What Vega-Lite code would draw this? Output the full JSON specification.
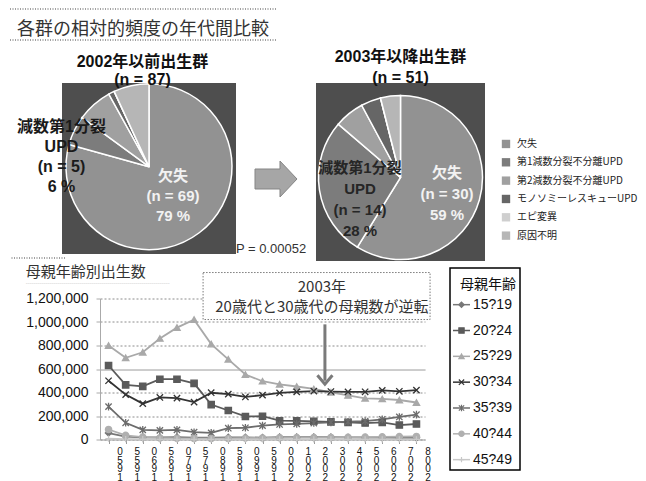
{
  "$schema": "https://vega.github.io/schema/vega-lite/v6.json",
  "background": "#ffffff",
  "padding": {"left": 9, "top": 8, "right": 0, "bottom": 0},
  "config": {
    "font": "Liberation Sans, Noto Sans CJK JP",
    "view": {"stroke": null},
    "title": {"font": "Noto Sans CJK JP", "color": "#222222", "fontWeight": "normal"},
    "axisX": {"title": null, "labelAngle": 0, "labelExpr": "reverse(split(datum.label, ''))", "labelFontSize": 10, "labelLineHeight": 8.5,
              "labelBaseline": "top", "labelOffset": 11, "labelPadding": 3, "tickSize": 4, "tickColor": "#999999", "domainColor": "#999999",
              "labelColor": "#111111", "labelOverlap": false, "labelFont": "Liberation Sans", "grid": false},
    "axisY": {"title": null, "values": [0, 200000, 400000, 600000, 800000, 1000000, 1200000], "format": ",d", "grid": true, "labelOverlap": false,
              "gridColor": "#8c8c8c", "gridDash": {"condition": {"test": "datum.value === 600000", "value": [1, 0]}, "value": [2, 2]},
              "domainColor": "#aaaaaa", "tickColor": "#aaaaaa", "tickSize": 4, "labelPadding": 8, "labelFontSize": 14,
              "labelFont": "Liberation Sans", "labelColor": "#111111"}
  },
  "spacing": 0,
  "vconcat": [
    {
      "width": 266, "height": 31,
      "data": {"values": [{"t": "各群の相対的頻度の年代間比較"}]},
      "layer": [
        {"mark": {"type": "rule", "stroke": "#a0a0a0", "strokeWidth": 2, "strokeDash": [1, 1.5]},
         "encoding": {"y": {"datum": 0, "type": "quantitative", "scale": {"domain": [0, 1], "nice": false, "zero": false}, "axis": null}}},
        {"mark": {"type": "rule", "stroke": "#a0a0a0", "strokeWidth": 2, "strokeDash": [1, 1.5]},
         "encoding": {"y": {"datum": 1, "type": "quantitative", "axis": null}}},
        {"mark": {"type": "text", "fontSize": 18, "font": "Noto Sans CJK JP", "color": "#333333", "dy": 5},
         "encoding": {"y": {"datum": 0.5, "type": "quantitative", "axis": null}, "text": {"field": "t"}}}
      ]
    },
    {"width": 1, "height": 8, "data": {"values": [{}]}, "mark": {"type": "rect", "opacity": 0}, "encoding": {}},
    {
      "spacing": 0,
      "bounds": "flush",
      "hconcat": [
        {"width": 52, "height": 178, "data": {"values": [{}]},
         "mark": {"type": "rule", "stroke": "#a0a0a0", "strokeWidth": 2, "strokeDash": [1, 1.5], "yOffset": -3, "xOffset": 3, "x2Offset": 95},
         "encoding": {"y": {"datum": 0, "type": "quantitative", "scale": {"domain": [0, 1]}, "axis": null}}},
        {
          "width": 174, "height": 171,
          "view": {"fill": "#4e4e4e", "stroke": null},
          "data": {"values": [
            {"cause": "欠失", "n": 69, "k": 1, "label": "欠失\n(n = 69)\n79 %"},
            {"cause": "第1減数分裂不分離UPD", "n": 5, "k": 2, "label": "減数第1分裂\nUPD\n(n = 5)\n6 %"},
            {"cause": "第2減数分裂不分離UPD", "n": 6, "k": 3, "label": ""},
            {"cause": "モノソミーレスキューUPD", "n": 1, "k": 4, "label": ""},
            {"cause": "エピ変異", "n": 0, "k": 5, "label": ""},
            {"cause": "原因不明", "n": 6, "k": 6, "label": ""}
          ]},
          "layer": [
            {"mark": {"type": "arc", "radius": 83, "stroke": "#ffffff", "strokeWidth": 1.5, "yOffset": -1.8},
             "encoding": {
               "theta": {"field": "n", "type": "quantitative", "stack": true},
               "order": {"field": "k", "type": "quantitative"},
               "fill": {"field": "cause", "type": "nominal", "legend": null,
               "scale": {"domain": ["欠失", "第1減数分裂不分離UPD", "第2減数分裂不分離UPD", "モノソミーレスキューUPD", "エピ変異", "原因不明"],
                         "range": ["#929292", "#7c7c7c", "#a0a0a0", "#666666", "#cfcfcf", "#b6b6b6"]}}}},
            {"transform": [{"filter": "datum.k === 1"}],
             "mark": {"type": "text", "dx": 24, "dy": 7.5, "lineBreak": "\n", "fontSize": 15, "fontWeight": "bold", "lineHeight": 20, "fill": "#f2f2f2"},
             "encoding": {"text": {"field": "label"}}},
            {"transform": [{"filter": "datum.k === 2"}],
             "mark": {"type": "text", "dx": -87.5, "dy": -42, "lineBreak": "\n", "fontSize": 16, "fontWeight": "bold", "lineHeight": 20, "fill": "#1a1a1a"},
             "encoding": {"text": {"field": "label"}}},
            {"transform": [{"filter": "datum.k === 1"}],
             "mark": {"type": "text", "dx": -6.5, "dy": -106.5, "lineBreak": "\n", "fontSize": 16, "fontWeight": "bold", "lineHeight": 18, "fill": "#111111"},
             "encoding": {"text": {"value": "2002年以前出生群\n(n = 87)"}}}
          ]
        },
        {
          "width": 80, "height": 173,
          "data": {"values": [{"p": "P = 0.00052"}]},
          "layer": [
            {"mark": {"type": "point", "shape": "M-1,-0.476L0.19,-0.476L0.19,-0.857L1,0L0.19,0.857L0.19,0.476L-1,0.476Z", "size": 1764, "filled": true, "fill": "#a6a6a6", "stroke": "#858585", "strokeWidth": 1, "opacity": 1, "yOffset": 9.5},
             "encoding": {}},
            {"mark": {"type": "text", "fontSize": 13, "color": "#333333", "dx": -5, "dy": 79.5, "font": "Liberation Sans"},
             "encoding": {"text": {"field": "p"}}}
          ]
        },
        {
          "width": 169, "height": 178,
          "view": {"fill": "#4e4e4e", "stroke": null},
          "data": {"values": [
            {"cause": "欠失", "n": 30, "k": 1, "label": "欠失\n(n = 30)\n59 %"},
            {"cause": "第1減数分裂不分離UPD", "n": 14, "k": 2, "label": "減数第1分裂\nUPD\n(n = 14)\n28 %"},
            {"cause": "第2減数分裂不分離UPD", "n": 3, "k": 3, "label": ""},
            {"cause": "モノソミーレスキューUPD", "n": 2, "k": 4, "label": ""},
            {"cause": "エピ変異", "n": 0, "k": 5, "label": ""},
            {"cause": "原因不明", "n": 2, "k": 6, "label": ""}
          ]},
          "layer": [
            {"mark": {"type": "arc", "radius": 82, "stroke": "#ffffff", "strokeWidth": 1.5, "yOffset": 5.5},
             "encoding": {
               "theta": {"field": "n", "type": "quantitative", "stack": true},
               "order": {"field": "k", "type": "quantitative"},
               "fill": {"field": "cause", "type": "nominal", "legend": null,
               "scale": {"domain": ["欠失", "第1減数分裂不分離UPD", "第2減数分裂不分離UPD", "モノソミーレスキューUPD", "エピ変異", "原因不明"],
                         "range": ["#929292", "#7c7c7c", "#a0a0a0", "#666666", "#cfcfcf", "#b6b6b6"]}}}},
            {"transform": [{"filter": "datum.k === 1"}],
             "mark": {"type": "text", "dx": 46.5, "dy": 1, "lineBreak": "\n", "fontSize": 15, "fontWeight": "bold", "lineHeight": 21, "fill": "#f2f2f2"},
             "encoding": {"text": {"field": "label"}}},
            {"transform": [{"filter": "datum.k === 2"}],
             "mark": {"type": "text", "dx": -40.5, "dy": -4, "lineBreak": "\n", "fontSize": 15, "fontWeight": "bold", "lineHeight": 21, "fill": "#262626"},
             "encoding": {"text": {"field": "label"}}},
            {"transform": [{"filter": "datum.k === 1"}],
             "mark": {"type": "text", "dy": -115, "lineBreak": "\n", "fontSize": 16, "fontWeight": "bold", "lineHeight": 21, "fill": "#111111"},
             "encoding": {"text": {"value": "2003年以降出生群\n(n = 51)"}}}
          ]
        },
        {
          "width": 42, "height": 110,
          "data": {"values": [
            {"cause": "欠失"}, {"cause": "第1減数分裂不分離UPD"}, {"cause": "第2減数分裂不分離UPD"},
            {"cause": "モノソミーレスキューUPD"}, {"cause": "エピ変異"}, {"cause": "原因不明"}
          ]},
          "encoding": {"y": {"field": "cause", "type": "nominal", "sort": null, "axis": null, "scale": {"type": "point", "padding": 0.5}}},
          "layer": [
            {"mark": {"type": "point", "shape": "square", "size": 70, "filled": true, "opacity": 1, "yOffset": 51.8},
             "encoding": {"fill": {"field": "cause", "type": "nominal", "legend": null,
               "scale": {"domain": ["欠失", "第1減数分裂不分離UPD", "第2減数分裂不分離UPD", "モノソミーレスキューUPD", "エピ変異", "原因不明"],
                         "range": ["#929292", "#7c7c7c", "#a0a0a0", "#666666", "#cfcfcf", "#b6b6b6"]}}}},
            {"mark": {"type": "text", "align": "left", "dx": 11, "yOffset": 51.8, "fontSize": 10, "font": "Noto Sans CJK JP", "color": "#222222"},
             "encoding": {"text": {"field": "cause"}}}
          ]
        }
      ]
    },
    {"width": 1, "height": 1.5, "data": {"values": [{}]}, "mark": {"type": "rect", "opacity": 0}, "encoding": {}},
    {
      "spacing": 25,
      "bounds": "flush",
      "center": true,
      "hconcat": [
        {"width": 65, "height": 1, "data": {"values": [{}]}, "mark": {"type": "rect", "opacity": 0}, "encoding": {}},
        {
          "width": 325, "height": 141,
          "title": {"text": "母親年齢別出生数", "subtitle": "┈┈┈┈┈┈┈┈┈┈┈┈┈┈┈┈┈┈", "anchor": "start", "frame": "bounds", "fontSize": 15, "color": "#333333",
                    "subtitleColor": "#9a9a9a", "subtitleFontSize": 8, "subtitleFont": "Noto Sans CJK JP", "subtitlePadding": 1, "offset": -17},
          "data": {"values": [
            {"year": "1950", "15?19": 55000, "20?24": 630000, "25?29": 800000, "30?34": 500000, "35?39": 280000, "40?44": 85000, "45?49": 8000},
            {"year": "1955", "15?19": 25000, "20?24": 465000, "25?29": 695000, "30?34": 382000, "35?39": 142000, "40?44": 35000, "45?49": 3000},
            {"year": "1960", "15?19": 19000, "20?24": 452000, "25?29": 742000, "30?34": 305000, "35?39": 82000, "40?44": 20000, "45?49": 2000},
            {"year": "1965", "15?19": 17000, "20?24": 513000, "25?29": 860000, "30?34": 358000, "35?39": 78000, "40?44": 13000, "45?49": 1000},
            {"year": "1970", "15?19": 20000, "20?24": 513000, "25?29": 952000, "30?34": 352000, "35?39": 82000, "40?44": 10000, "45?49": 1000},
            {"year": "1975", "15?19": 15000, "20?24": 478000, "25?29": 1020000, "30?34": 318000, "35?39": 62000, "40?44": 8000, "45?49": 1000},
            {"year": "1980", "15?19": 15000, "20?24": 297000, "25?29": 812000, "30?34": 398000, "35?39": 56000, "40?44": 8000, "45?49": 1000},
            {"year": "1985", "15?19": 18000, "20?24": 247000, "25?29": 682000, "30?34": 386000, "35?39": 96000, "40?44": 9000, "45?49": 1000},
            {"year": "1990", "15?19": 18000, "20?24": 196000, "25?29": 553000, "30?34": 362000, "35?39": 100000, "40?44": 12000, "45?49": 1000},
            {"year": "1995", "15?19": 16000, "20?24": 198000, "25?29": 496000, "30?34": 378000, "35?39": 118000, "40?44": 13000, "45?49": 1000},
            {"year": "2000", "15?19": 20000, "20?24": 160000, "25?29": 470000, "30?34": 396000, "35?39": 128000, "40?44": 15000, "45?49": 1000},
            {"year": "2001", "15?19": 20000, "20?24": 158000, "25?29": 451000, "30?34": 405000, "35?39": 133000, "40?44": 16000, "45?49": 1000},
            {"year": "2002", "15?19": 21000, "20?24": 155000, "25?29": 430000, "30?34": 412000, "35?39": 140000, "40?44": 16000, "45?49": 1000},
            {"year": "2003", "15?19": 20000, "20?24": 150000, "25?29": 401000, "30?34": 408000, "35?39": 146000, "40?44": 17000, "45?49": 1000},
            {"year": "2004", "15?19": 18000, "20?24": 146000, "25?29": 375000, "30?34": 405000, "35?39": 151000, "40?44": 18000, "45?49": 1000},
            {"year": "2005", "15?19": 17000, "20?24": 140000, "25?29": 350000, "30?34": 406000, "35?39": 156000, "40?44": 20000, "45?49": 1000},
            {"year": "2006", "15?19": 16000, "20?24": 146000, "25?29": 345000, "30?34": 418000, "35?39": 172000, "40?44": 22000, "45?49": 1000},
            {"year": "2007", "15?19": 15000, "20?24": 123000, "25?29": 336000, "30?34": 410000, "35?39": 192000, "40?44": 24000, "45?49": 1000},
            {"year": "2008", "15?19": 15000, "20?24": 132000, "25?29": 315000, "30?34": 420000, "35?39": 212000, "40?44": 26000, "45?49": 1000}
          ]},
          "layer": [
            {"transform": [{"fold": ["15?19", "20?24", "25?29", "30?34", "35?39", "40?44", "45?49"], "as": ["age", "births"]}],
             "mark": {"type": "line", "strokeWidth": 1.8},
             "encoding": {
               "x": {"field": "year", "type": "ordinal", "scale": {"type": "point", "padding": 0.5}},
               "y": {"field": "births", "type": "quantitative", "scale": {"domain": [0, 1200000], "nice": false}},
               "color": {"field": "age", "type": "nominal", "legend": null,
                 "scale": {"domain": ["15?19", "20?24", "25?29", "30?34", "35?39", "40?44", "45?49"],
                           "range": ["#777777", "#5a5a5a", "#a9a9a9", "#333333", "#6c6c6c", "#b0b0b0", "#c8c8c8"]}}}},
            {"transform": [{"fold": ["15?19", "20?24", "25?29", "30?34", "35?39", "40?44", "45?49"], "as": ["age", "births"]}],
             "mark": {"type": "point", "filled": true, "size": 40, "strokeWidth": 1.3, "opacity": 1},
             "encoding": {
               "x": {"field": "year", "type": "ordinal"},
               "y": {"field": "births", "type": "quantitative"},
               "color": {"field": "age", "type": "nominal", "legend": null,
                 "scale": {"domain": ["15?19", "20?24", "25?29", "30?34", "35?39", "40?44", "45?49"],
                           "range": ["#777777", "#5a5a5a", "#a9a9a9", "#333333", "#6c6c6c", "#b0b0b0", "#c8c8c8"]}},
               "stroke": {"field": "age", "type": "nominal", "legend": null,
                 "scale": {"domain": ["15?19", "20?24", "25?29", "30?34", "35?39", "40?44", "45?49"],
                           "range": ["#777777", "#5a5a5a", "#a9a9a9", "#333333", "#6c6c6c", "#b0b0b0", "#c8c8c8"]}},
               "shape": {"field": "age", "type": "nominal", "legend": null,
                 "scale": {"domain": ["15?19", "20?24", "25?29", "30?34", "35?39", "40?44", "45?49"],
                           "range": ["diamond", "square", "triangle-up", "M-1,-1L1,1M-1,1L1,-1", "M-1,-1L1,1M-1,1L1,-1M0,-1.2L0,1.2", "circle", "M-1,0L1,0M0,-1L0,1"]}}
             }},
            {"transform": [{"filter": "datum.year === '2003'"}],
             "mark": {"type": "rect", "fill": "#ffffff", "stroke": "#7a7a7a", "strokeDash": [1.5, 1.5], "strokeWidth": 1, "xOffset": 9, "x2Offset": 13.6},
             "encoding": {"x": {"datum": "1975", "type": "ordinal"}, "x2": {"datum": "2008"}, "y": {"datum": 1421000, "type": "quantitative"}, "y2": {"datum": 1021000}}},
            {"transform": [{"filter": "datum.year === '2003'"}],
             "mark": {"type": "text", "lineBreak": "\n", "fontSize": 15, "lineHeight": 20, "color": "#333333", "font": "Noto Sans CJK JP", "xOffset": -9, "dy": -10},
             "encoding": {"x": {"field": "year", "type": "ordinal"}, "y": {"datum": 1217000, "type": "quantitative"}, "text": {"value": "2003年\n20歳代と30歳代の母親数が逆転"}}},
            {"transform": [{"filter": "datum.year === '2003'"}],
             "mark": {"type": "rule", "stroke": "#7a7a7a", "strokeWidth": 3, "xOffset": -6},
             "encoding": {"x": {"field": "year", "type": "ordinal"}, "y": {"datum": 980000, "type": "quantitative"}, "y2": {"datum": 500000}}},
            {"transform": [{"filter": "datum.year === '2003'"}],
             "mark": {"type": "point", "shape": "M-1,-0.7L0,0.5L1,-0.7", "filled": false, "stroke": "#7a7a7a", "strokeWidth": 3, "size": 225, "opacity": 1, "xOffset": -6},
             "encoding": {"x": {"field": "year", "type": "ordinal"}, "y": {"datum": 502000, "type": "quantitative"}}}
          ]
        },
        {
          "width": 70, "height": 202,
          "view": {"fill": "#ffffff", "stroke": "#000000", "strokeWidth": 1.5},
          "title": {"text": "母親年齢", "fontSize": 14, "offset": -24, "color": "#111111", "dx": 3},
          "data": {"values": [{"age": "15?19"}, {"age": "20?24"}, {"age": "25?29"}, {"age": "30?34"}, {"age": "35?39"}, {"age": "40?44"}, {"age": "45?49"}]},
          "encoding": {"y": {"field": "age", "type": "nominal", "sort": null, "axis": null, "scale": {"type": "point", "padding": 0.91, "align": 0.78}}},
          "layer": [
            {"mark": {"type": "point", "shape": "M-1,0L1,0", "size": 289, "filled": false, "strokeWidth": 1.5, "opacity": 1, "xOffset": -23.5},
             "encoding": {"stroke": {"field": "age", "type": "nominal", "legend": null,
               "scale": {"domain": ["15?19", "20?24", "25?29", "30?34", "35?39", "40?44", "45?49"],
                         "range": ["#777777", "#5a5a5a", "#a9a9a9", "#333333", "#6c6c6c", "#b0b0b0", "#c8c8c8"]}}}},
            {"mark": {"type": "point", "filled": true, "size": 28, "strokeWidth": 1.2, "opacity": 1, "xOffset": -23.5},
             "encoding": {
               "color": {"field": "age", "type": "nominal", "legend": null,
                 "scale": {"domain": ["15?19", "20?24", "25?29", "30?34", "35?39", "40?44", "45?49"],
                           "range": ["#777777", "#5a5a5a", "#a9a9a9", "#333333", "#6c6c6c", "#b0b0b0", "#c8c8c8"]}},
               "stroke": {"field": "age", "type": "nominal", "legend": null,
                 "scale": {"domain": ["15?19", "20?24", "25?29", "30?34", "35?39", "40?44", "45?49"],
                           "range": ["#777777", "#5a5a5a", "#a9a9a9", "#333333", "#6c6c6c", "#b0b0b0", "#c8c8c8"]}},
               "shape": {"field": "age", "type": "nominal", "legend": null,
                 "scale": {"domain": ["15?19", "20?24", "25?29", "30?34", "35?39", "40?44", "45?49"],
                           "range": ["diamond", "square", "triangle-up", "M-1,-1L1,1M-1,1L1,-1", "M-1,-1L1,1M-1,1L1,-1M0,-1.2L0,1.2", "circle", "M-1,0L1,0M0,-1L0,1"]}}
             }},
            {"mark": {"type": "text", "align": "left", "dx": -12, "fontSize": 14, "font": "Liberation Sans", "color": "#111111"},
             "encoding": {"text": {"field": "age"}}}
          ]
        }
      ]
    }
  ]
}
